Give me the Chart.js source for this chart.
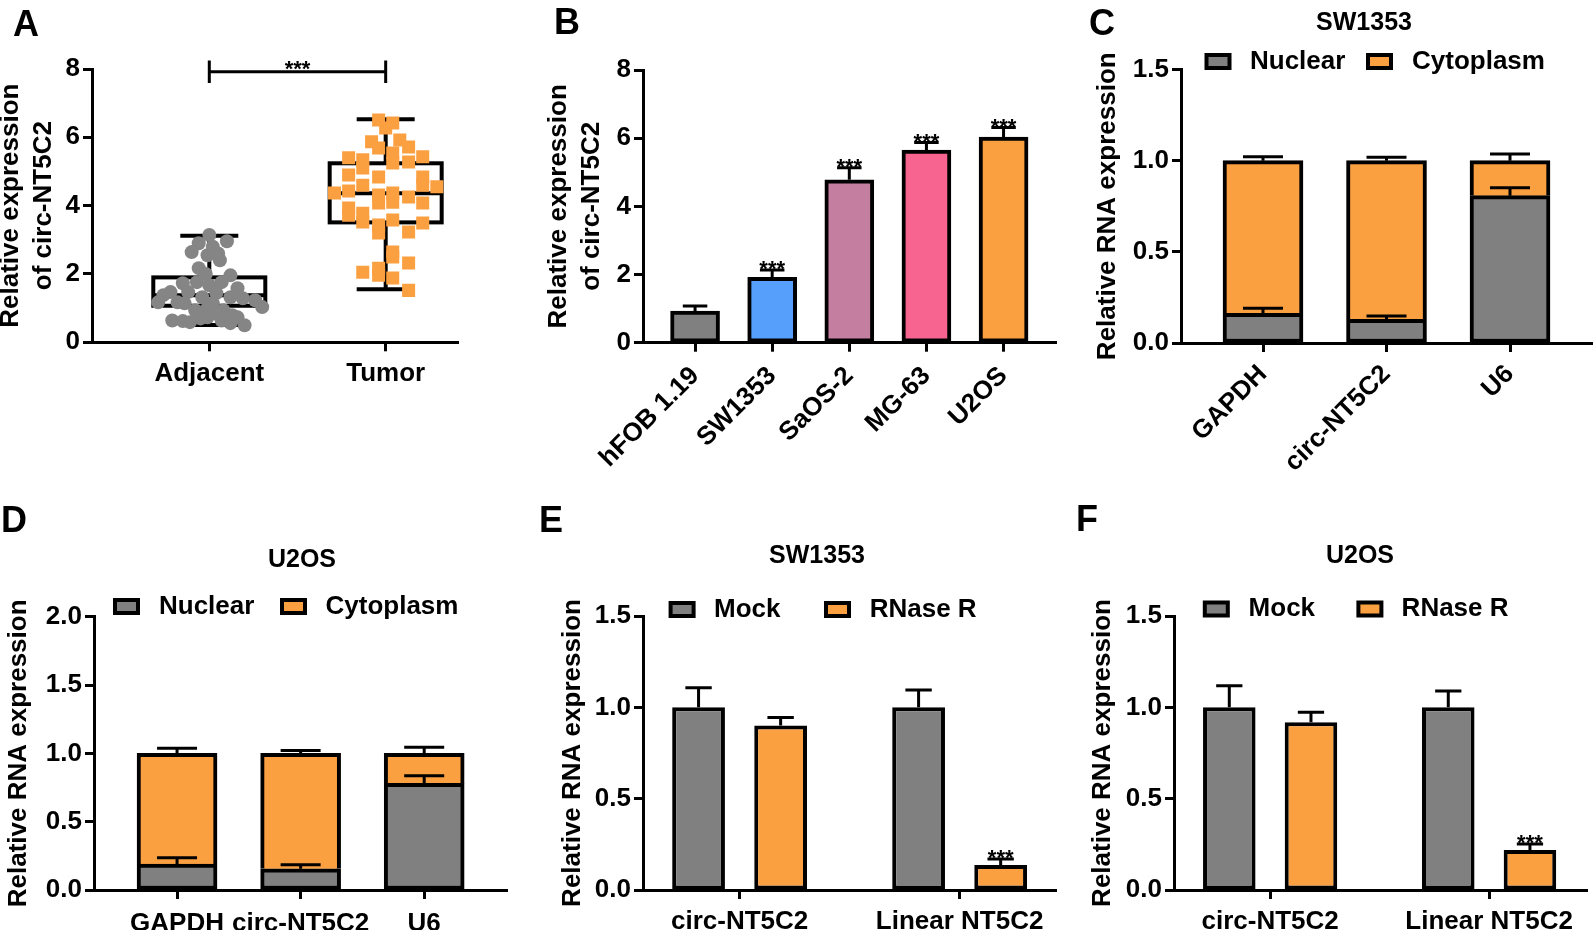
<!DOCTYPE html>
<html lang="en">
<head>
<meta charset="UTF-8">
<title>circ-NT5C2 expression panels</title>
<style>
    body {
        margin: 0;
        width: 1593px;
        height: 930px;
        background: #fff;
        overflow: hidden;
        position: relative;
        font-family: 'Liberation Sans', Arial, Helvetica, sans-serif;
    }
    canvas {
        position: absolute;
    }
    .letter {
        position: absolute;
        font-size: 36px;
        font-weight: bold;
        line-height: 1;
        color: #000;
    }
</style>
</head>
<body>
<canvas id="chartA"></canvas>
<canvas id="chartB"></canvas>
<canvas id="chartC"></canvas>
<canvas id="chartD"></canvas>
<canvas id="chartE"></canvas>
<canvas id="chartF"></canvas>

<script src="https://cdn.jsdelivr.net/npm/chart.js"></script>
<script>
// ---------- data ----------
// A: tissue samples
const boxGroups = ['Adjacent', 'Tumor'];
// min, q1, median, q3, max
const adjacentStats = [0.51, 1.07, 1.38, 1.90, 3.12];
const tumorStats = [1.55, 3.51, 4.36, 5.24, 6.53];
// horizontal jitter (in category units) and value of each sample
const adjacentJitter = [0.00, -0.06, 0.10, -0.10, 0.02, -0.01, 0.05, 0.06, -0.06, -0.02, 0.12, -0.15, -0.07, 0.00, 0.07,
    0.16, -0.12, -0.22, -0.26, -0.29, -0.18, -0.14, -0.04, 0.04, 0.12, 0.19, 0.26, 0.30, 0.02, -0.01, -0.08, 0.08, 0.03,
    0.13, -0.21, -0.15, -0.05, -0.01, 0.07, 0.16, 0.20, 0.12, -0.11];
const adjacentValues = [3.14, 2.90, 2.96, 2.64, 2.80, 2.55, 2.60, 2.40, 2.17, 2.00, 1.96, 1.73, 1.76, 1.67, 1.76,
    1.58, 1.47, 1.47, 1.38, 1.17, 1.17, 1.14, 1.32, 1.44, 1.32, 1.29, 1.23, 1.03, 1.14, 1.00, 0.94, 0.94, 0.85,
    0.79, 0.64, 0.62, 0.70, 0.73, 0.64, 0.73, 0.50, 0.56, 0.59];
const tumorJitter = [-0.04, 0.04, 0.00, -0.08, -0.04, 0.08, 0.13, 0.04, 0.04, -0.21, -0.13, 0.21, 0.13, -0.13, -0.21,
    -0.04, 0.21, 0.21, 0.29, -0.13, -0.29, -0.21, -0.04, 0.04, 0.13, -0.04, 0.04, 0.21, -0.21, -0.21, -0.13, -0.13,
    0.04, 0.21, -0.04, 0.13, -0.04, 0.04, 0.04, 0.13, -0.04, -0.13, -0.04, 0.04, 0.13];
const tumorValues = [6.51, 6.42, 6.27, 5.87, 5.69, 5.92, 5.72, 5.54, 5.25, 5.40, 5.34, 5.43, 5.28, 5.10, 4.90,
    4.84, 4.84, 4.60, 4.55, 4.60, 4.37, 4.43, 4.31, 4.37, 4.25, 4.08, 4.10, 4.08, 3.93, 3.72, 3.78, 3.52,
    3.58, 3.49, 3.43, 3.23, 3.20, 2.64, 2.50, 2.32, 2.17, 2.05, 1.96, 1.88, 1.52];

// B: cell lines
const cellLines = ['hFOB 1.19', 'SW1353', 'SaOS-2', 'MG-63', 'U2OS'];
const cellLineMeans = [0.93, 1.92, 4.78, 5.65, 6.03];
const cellLineErr = [0.15, 0.21, 0.35, 0.22, 0.28];
const cellLineStars = ['', '***', '***', '***', '***'];

// C, D: nuclear / cytoplasm fractionation
const fractionGenes = ['GAPDH', 'circ-NT5C2', 'U6'];
const sw1353Nuclear = [0.163, 0.130, 0.808];
const sw1353NuclearErr = [0.027, 0.018, 0.044];
const sw1353Cytoplasm = [0.837, 0.870, 0.192];
const sw1353CytoplasmErr = [0.022, 0.019, 0.037];
const u2osNuclear = [0.190, 0.155, 0.780];
const u2osNuclearErr = [0.046, 0.030, 0.056];
const u2osCytoplasm = [0.810, 0.845, 0.220];
const u2osCytoplasmErr = [0.037, 0.020, 0.045];

// E, F: RNase R treatment
const rnaseTargets = ['circ-NT5C2', 'Linear NT5C2'];
const sw1353Mock = [1.00, 1.00];
const sw1353MockErr = [0.107, 0.095];
const sw1353RNase = [0.900, 0.137];
const sw1353RNaseErr = [0.045, 0.033];
const u2osMock = [1.00, 1.00];
const u2osMockErr = [0.118, 0.089];
const u2osRNase = [0.918, 0.219];
const u2osRNaseErr = [0.055, 0.033];
const rnaseStars = ['', '***'];

// ---------- look ----------
const FONT = "'Liberation Sans', Arial, Helvetica, sans-serif";
const GRAY = '#808080';
const ORANGE = '#FBA040';
const cellLineColors = ['#808080', '#56A0FB', '#C47E9F', '#F76490', '#FBA040'];

Chart.defaults.font.family = FONT;
Chart.defaults.font.weight = 'bold';
Chart.defaults.color = '#000';

// canvas placement on the page and the fixed axis boxes
const panels = {
    chartA: { left: -6, top: 0, width: 476, height: 400, padTop: 69, padRight: 12, yWidth: 98, xHeight: 57.7 },
    chartB: { left: 542, top: 0, width: 524, height: 470, padTop: 70, padRight: 10, yWidth: 101, xHeight: 127.3 },
    chartC: { left: 1091, top: 0, width: 502, height: 470, padTop: 69.5, padRight: 0, yWidth: 90, xHeight: 127 },
    chartD: { left: 2, top: 470, width: 515, height: 460, padTop: 146.7, padRight: 10, yWidth: 92, xHeight: 40 },
    chartE: { left: 556, top: 470, width: 510, height: 460, padTop: 146, padRight: 10, yWidth: 87, xHeight: 40 },
    chartF: { left: 1086, top: 470, width: 507, height: 460, padTop: 146, padRight: 6, yWidth: 88, xHeight: 40 }
};

// panel letters (page coordinates of the cap top-left)
const letters = [
    { text: 'A', x: 13, y: 6 },
    { text: 'B', x: 554, y: 4 },
    { text: 'C', x: 1089, y: 5 },
    { text: 'D', x: 1, y: 502 },
    { text: 'E', x: 539, y: 502 },
    { text: 'F', x: 1076, y: 501 }
];
letters.forEach(l => {
    const div = document.createElement('div');
    div.className = 'letter';
    div.textContent = l.text;
    div.style.left = l.x + 'px';
    div.style.top = l.y + 'px';
    document.body.appendChild(div);
});

// titles, legends, bracket, boxes (page coordinates)
const decor = {
    chartA: {
        bracket: { from: 1, to: 2, value: 7.92, drop: 0.33, text: '***' },
        boxes: [{ x: 1, stats: adjacentStats }, { x: 2, stats: tumorStats }]
    },
    chartB: {},
    chartC: {
        title: { text: 'SW1353', x: 1364, y: 23.5 },
        legend: { y: 61.5, items: [{ box: 1204.5, text: 1250 }, { box: 1366, text: 1412 }] }
    },
    chartD: {
        title: { text: 'U2OS', x: 302, y: 560 },
        legend: { y: 606.5, items: [{ box: 113, text: 159 }, { box: 280, text: 325.5 }] }
    },
    chartE: {
        title: { text: 'SW1353', x: 817, y: 556.5 },
        legend: { y: 609.5, items: [{ box: 668.6, text: 714 }, { box: 824, text: 869.7 }] }
    },
    chartF: {
        title: { text: 'U2OS', x: 1360, y: 556.5 },
        legend: { y: 609, items: [{ box: 1202.8, text: 1248.6 }, { box: 1356.4, text: 1401.6 }] }
    }
};

// error bars, stars, box plot and page decorations
const decorPlugin = {
    id: 'decor',
    beforeDatasetsDraw(chart) {
        const d = decor[chart.canvas.id];
        if (!d || !d.boxes) return;
        const ctx = chart.ctx, x = chart.scales.x, y = chart.scales.y;
        ctx.save();
        ctx.strokeStyle = '#000';
        ctx.lineWidth = 4;
        d.boxes.forEach(b => {
            const cx = x.getPixelForValue(b.x);
            const [mn, q1, med, q3, mx] = b.stats.map(v => y.getPixelForValue(v));
            const half = 56, cap = 29;
            ctx.beginPath();
            ctx.moveTo(cx, q3); ctx.lineTo(cx, mx);
            ctx.moveTo(cx - cap, mx); ctx.lineTo(cx + cap, mx);
            ctx.moveTo(cx, q1); ctx.lineTo(cx, mn);
            ctx.moveTo(cx - cap, mn); ctx.lineTo(cx + cap, mn);
            ctx.moveTo(cx - half, med); ctx.lineTo(cx + half, med);
            ctx.stroke();
            ctx.strokeRect(cx - half, q3, half * 2, q1 - q3);
        });
        ctx.restore();
    },
    afterDatasetsDraw(chart) {
        const ctx = chart.ctx, y = chart.scales.y;
        ctx.save();
        ctx.strokeStyle = '#000';
        ctx.fillStyle = '#000';
        ctx.lineWidth = 3;
        ctx.font = 'bold 22px ' + FONT;
        ctx.textAlign = 'center';
        ctx.textBaseline = 'alphabetic';
        chart.data.datasets.forEach((ds, di) => {
            if (!ds.errors) return;
            const meta = chart.getDatasetMeta(di);
            meta.data.forEach((bar, i) => {
                const len = y.getPixelForValue(0) - y.getPixelForValue(ds.errors[i]);
                const end = bar.y - len;
                const half = bar.width / 4;
                ctx.beginPath();
                ctx.moveTo(bar.x, bar.y);
                ctx.lineTo(bar.x, end);
                ctx.moveTo(bar.x - half, end);
                ctx.lineTo(bar.x + half, end);
                ctx.stroke();
                if (ds.stars && ds.stars[i]) ctx.fillText(ds.stars[i], bar.x, end + 6);
            });
        });
        ctx.restore();
    },
    afterDraw(chart) {
        const d = decor[chart.canvas.id];
        const p = panels[chart.canvas.id];
        if (!d) return;
        const ctx = chart.ctx;
        ctx.save();
        ctx.fillStyle = '#000';
        ctx.strokeStyle = '#000';

        if (d.bracket) {
            const x = chart.scales.x, y = chart.scales.y, b = d.bracket;
            const x1 = x.getPixelForValue(b.from), x2 = x.getPixelForValue(b.to);
            const yl = y.getPixelForValue(b.value);
            const yt = y.getPixelForValue(b.value + b.drop), yb = y.getPixelForValue(b.value - b.drop);
            ctx.lineWidth = 3;
            ctx.beginPath();
            ctx.moveTo(x1, yt); ctx.lineTo(x1, yb);
            ctx.moveTo(x2, yt); ctx.lineTo(x2, yb);
            ctx.moveTo(x1, yl); ctx.lineTo(x2, yl);
            ctx.stroke();
            ctx.font = 'bold 22px ' + FONT;
            ctx.textAlign = 'center';
            ctx.textBaseline = 'alphabetic';
            ctx.fillText(b.text, (x1 + x2) / 2, yl + 4.5);
        }

        ctx.translate(-p.left, -p.top);
        if (d.title) {
            ctx.font = 'bold 25px ' + FONT;
            ctx.textAlign = 'center';
            ctx.textBaseline = 'middle';
            ctx.fillText(d.title.text, d.title.x, d.title.y);
        }

        if (d.legend) {
            ctx.font = 'bold 26px ' + FONT;
            ctx.textAlign = 'left';
            ctx.textBaseline = 'middle';
            d.legend.items.forEach((it, i) => {
                const ds = chart.data.datasets[i];
                ctx.fillStyle = ds.backgroundColor;
                ctx.fillRect(it.box + 2, d.legend.y - 6.5, 23, 13);
                ctx.lineWidth = 4;
                ctx.strokeRect(it.box + 2, d.legend.y - 6.5, 23, 13);
                ctx.fillStyle = '#000';
                ctx.fillText(ds.label, it.text, d.legend.y);
            });
        }
        ctx.restore();
    }
};
Chart.register(decorPlugin);

// ---------- axes ----------
const axisLine = { display: true, color: '#000', width: 3 };
const tickMarks = {
    display: true, offset: false, drawOnChartArea: false, drawTicks: true,
    tickLength: 9, tickWidth: 3, tickColor: '#000'
};

function yAxis(id, max, step, digits, title, stacked) {
    return {
        stacked: !!stacked,
        min: 0,
        max: max,
        afterFit: s => { s.width = panels[id].yWidth; },
        border: axisLine,
        grid: tickMarks,
        ticks: {
            stepSize: step,
            padding: 3,
            color: '#000',
            font: { size: 26, weight: 'bold' },
            callback: v => v.toFixed(digits)
        },
        title: {
            display: true,
            text: title,
            color: '#000',
            padding: { top: 0, bottom: 0 },
            font: { size: 26, weight: 'bold', lineHeight: 1.27 }
        }
    };
}

function xAxis(id, names, first, min, max, rotation, pad, stacked) {
    return {
        type: 'linear',
        offset: false,
        stacked: !!stacked,
        min: min,
        max: max,
        afterBuildTicks: s => { s.ticks = names.map((_, i) => ({ value: first + i })); },
        afterFit: s => { s.height = panels[id].xHeight; },
        border: axisLine,
        grid: tickMarks,
        ticks: {
            autoSkip: false,
            minRotation: rotation,
            maxRotation: rotation,
            padding: pad,
            color: '#000',
            font: { size: 26, weight: 'bold' },
            callback: v => names[Math.round(v) - first]
        }
    };
}

function makeChart(id, config) {
    const p = panels[id];
    const canvas = document.getElementById(id);
    canvas.width = p.width;
    canvas.height = p.height;
    canvas.style.left = p.left + 'px';
    canvas.style.top = p.top + 'px';
    config.options.responsive = false;
    config.options.animation = false;
    config.options.layout = { padding: { left: 0, top: p.padTop, right: p.padRight, bottom: 0 } };
    config.options.plugins = { legend: { display: false }, tooltip: { enabled: false } };
    return new Chart(canvas, config);
}

const xy = values => values.map((v, i) => ({ x: i, y: v }));

// ---------- A: box plot with samples ----------
makeChart('chartA', {
    type: 'scatter',
    data: {
        datasets: [{
            label: 'Adjacent',
            data: adjacentValues.map((v, i) => ({ x: 1 + adjacentJitter[i], y: v })),
            pointStyle: 'circle',
            pointRadius: 7,
            backgroundColor: '#858585',
            borderWidth: 0
        }, {
            label: 'Tumor',
            data: tumorValues.map((v, i) => ({ x: 2 + tumorJitter[i], y: v })),
            pointStyle: 'rect',
            pointRadius: 9.2,
            backgroundColor: ORANGE,
            borderWidth: 0
        }]
    },
    options: {
        scales: {
            x: xAxis('chartA', boxGroups, 1, 0.335, 2.41, 0, 7),
            y: yAxis('chartA', 8, 2, 0, ['Relative expression', 'of circ-NT5C2'])
        }
    }
});

// ---------- B: cell lines ----------
makeChart('chartB', {
    type: 'bar',
    data: {
        datasets: [{
            label: 'circ-NT5C2',
            data: xy(cellLineMeans),
            backgroundColor: cellLineColors,
            borderColor: '#000',
            borderWidth: 4,
            borderSkipped: false,
            barThickness: 49,
            errors: cellLineErr,
            stars: cellLineStars
        }]
    },
    options: {
        scales: {
            x: xAxis('chartB', cellLines, 0, -0.675, 4.68, 45, 9),
            y: yAxis('chartB', 8, 2, 0, ['Relative expression', 'of circ-NT5C2'])
        }
    }
});

// ---------- C, D: stacked fractions ----------
function fractionChart(id, nuclear, nuclearErr, cyto, cytoErr, yMax, min, max, rotation, pad) {
    makeChart(id, {
        type: 'bar',
        data: {
            datasets: [{
                label: 'Nuclear',
                data: xy(nuclear),
                backgroundColor: GRAY,
                borderColor: '#000',
                borderWidth: 4,
                borderSkipped: false,
                barThickness: 80,
                errors: nuclearErr
            }, {
                label: 'Cytoplasm',
                data: xy(cyto),
                backgroundColor: ORANGE,
                borderColor: '#000',
                borderWidth: 4,
                borderSkipped: 'start',
                barThickness: 80,
                errors: cytoErr
            }]
        },
        options: {
            scales: {
                x: xAxis(id, fractionGenes, 0, min, max, rotation, pad, true),
                y: yAxis(id, yMax, 0.5, 1, 'Relative RNA expression', true)
            }
        }
    });
}
fractionChart('chartC', sw1353Nuclear, sw1353NuclearErr, sw1353Cytoplasm, sw1353CytoplasmErr, 1.5, -0.664, 2.672, 45, 7);
fractionChart('chartD', u2osNuclear, u2osNuclearErr, u2osCytoplasm, u2osCytoplasmErr, 2.0, -0.672, 2.67, 0, 9);

// ---------- E, F: RNase R ----------
function rnaseChart(id, mock, mockErr, rnase, rnaseErr, min, max) {
    const common = {
        borderColor: '#000',
        borderWidth: 4,
        borderSkipped: false,
        categoryPercentage: 0.746,
        barPercentage: 0.643
    };
    makeChart(id, {
        type: 'bar',
        data: {
            datasets: [
                Object.assign({ label: 'Mock', data: xy(mock), backgroundColor: GRAY, errors: mockErr }, common),
                Object.assign({ label: 'RNase R', data: xy(rnase), backgroundColor: ORANGE, errors: rnaseErr, stars: rnaseStars }, common)
            ]
        },
        options: {
            scales: {
                x: xAxis(id, rnaseTargets, 0, min, max, 0, 7),
                y: yAxis(id, 1.5, 0.5, 1, 'Relative RNA expression')
            }
        }
    });
}
rnaseChart('chartE', sw1353Mock, sw1353MockErr, sw1353RNase, sw1353RNaseErr, -0.439, 1.438);
rnaseChart('chartF', u2osMock, u2osMockErr, u2osRNase, u2osRNaseErr, -0.439, 1.447);
</script>
</body>
</html>
